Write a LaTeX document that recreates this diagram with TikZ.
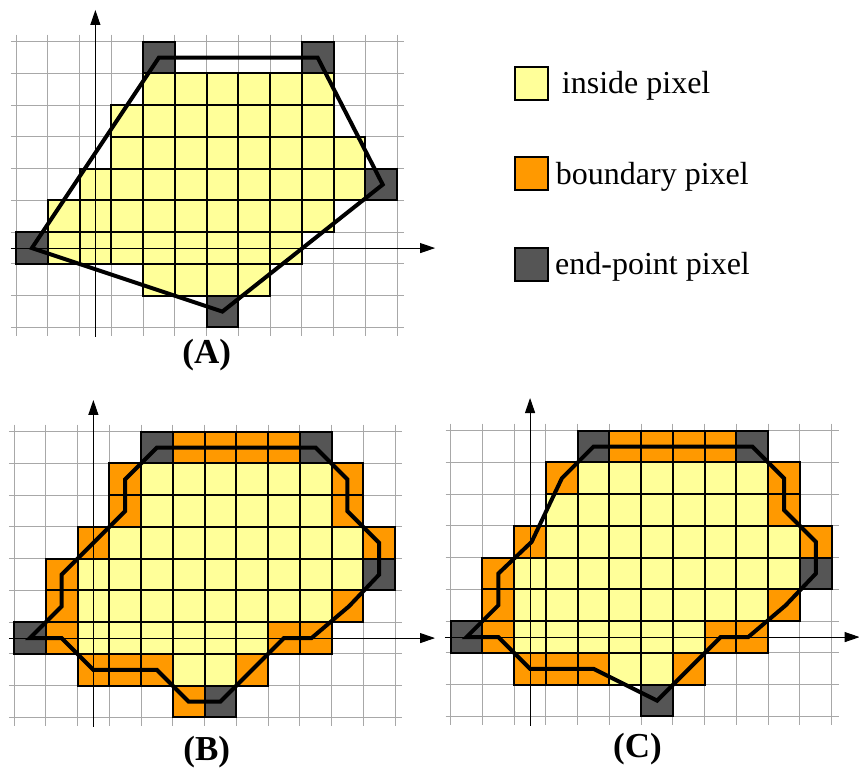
\documentclass[tikz,border=0pt]{standalone}
\usepackage{fontspec}
\setmainfont{Liberation Serif}
\usetikzlibrary{arrows.meta}
\definecolor{inpix}{HTML}{FFFF99}
\definecolor{bdpix}{HTML}{FF9900}
\definecolor{endpix}{HTML}{555555}
\definecolor{gridgray}{HTML}{A8A8A8}
\tikzset{
  gridline/.style={draw=gridgray, line width=1pt},
  cellbox/.style={draw=black, line width=2pt},
  inbox/.style={cellbox, fill=inpix},
  bdbox/.style={cellbox, fill=bdpix},
  endbox/.style={cellbox, fill=endpix},
  axisline/.style={draw=black, line width=1pt, -{Triangle[length=15pt,width=10pt]}},
  outline/.style={draw=black, line width=4pt, line join=miter},
  panellabel/.style={font=\fontsize{35}{40}\selectfont\bfseries, inner sep=0pt, anchor=base},
  legendtext/.style={font=\fontsize{32}{38}\selectfont, inner sep=0pt, anchor=base west},
  panel/.style={x=31.75pt, y=-31.75pt}
}
\newcommand\pixgrid{%
  \foreach \i in {0,...,12} \draw[gridline] (\i,-0.22) -- (\i,9.28);
  \foreach \j in {0,...,9} \draw[gridline] (-0.16,\j) -- (12.22,\j);}
\newcommand\pixrow[3]{\foreach \c in {#3} \path[#1] (\c,#2) rectangle ++(1,1);}
\begin{document}
\begin{tikzpicture}[x=1pt, y=-1pt]
\useasboundingbox (0,0) rectangle (859,769);

% ---------- Panel A ----------
\begin{scope}[shift={(16pt,-41.7pt)}, panel]
  \pixgrid
  \pixrow{inbox}{1}{4,...,9}
  \pixrow{inbox}{2}{3,...,9}
  \pixrow{inbox}{3}{3,...,10}
  \pixrow{inbox}{4}{2,...,10}
  \pixrow{inbox}{5}{1,...,9}
  \pixrow{inbox}{6}{1,...,8}
  \pixrow{inbox}{7}{4,...,7}
  \pixrow{endbox}{0}{4,9}
  \pixrow{endbox}{4}{11}
  \pixrow{endbox}{6}{0}
  \pixrow{endbox}{8}{6}
  \coordinate (ay0) at (2.5,9.3);  \coordinate (ay1) at (2.5,-1.0);
  \coordinate (ax0) at (-0.16,6.5); \coordinate (ax1) at (13.2,6.5);
  \draw[axisline] (ay0) -- (ay1);
  \draw[axisline] (ax0) -- (ax1);
  \draw[outline] (4.5,0.5) -- (9.5,0.5) -- (11.55,4.5) -- (6.5,8.5) -- (0.5,6.5) -- cycle;
\end{scope}
\node[panellabel] (labA) at (206.7,363.5) {(A)};

% ---------- Panel B ----------
\begin{scope}[shift={(14pt,-431.7pt)}, panel]
  \pixgrid
  \pixrow{inbox}{1}{4,...,9}
  \pixrow{inbox}{2}{4,...,9}
  \pixrow{inbox}{3}{3,...,10}
  \pixrow{inbox}{4}{2,...,10}
  \pixrow{inbox}{5}{2,...,9}
  \pixrow{inbox}{6}{2,...,7}
  \pixrow{inbox}{7}{5,6}
  \pixrow{bdbox}{0}{5,...,8}
  \pixrow{bdbox}{1}{3,10}
  \pixrow{bdbox}{2}{3,10}
  \pixrow{bdbox}{3}{2,11}
  \pixrow{bdbox}{4}{1}
  \pixrow{bdbox}{5}{1,10}
  \pixrow{bdbox}{6}{1,8,9}
  \pixrow{bdbox}{7}{2,3,4,7}
  \pixrow{bdbox}{8}{5}
  \pixrow{endbox}{0}{4,9}
  \pixrow{endbox}{4}{11}
  \pixrow{endbox}{6}{0}
  \pixrow{endbox}{8}{6}
  \coordinate (by0) at (2.5,9.29);  \coordinate (by1) at (2.5,-1.0);
  \coordinate (bx0) at (-0.16,6.5); \coordinate (bx1) at (13.26,6.5);
  \draw[axisline] (by0) -- (by1);
  \draw[axisline] (bx0) -- (bx1);
  \draw[outline] (4.5,0.5) -- (9.5,0.5) -- (10.5,1.5) -- (10.5,2.5) -- (11.5,3.5)
    -- (11.5,4.5) -- (10.55,5.5) -- (9.37,6.5) -- (8.5,6.5) -- (6.5,8.5) -- (5.5,8.5)
    -- (4.5,7.5) -- (2.5,7.5) -- (1.5,6.5) -- (0.5,6.5) -- (1.5,5.5) -- (1.5,4.5)
    -- (3.5,2.5) -- (3.5,1.5) -- cycle;
\end{scope}
\node[panellabel] (labB) at (206.7,760) {(B)};

% ---------- Panel C ----------
\begin{scope}[shift={(450.7pt,-430.7pt)}, panel]
  \pixgrid
  \pixrow{inbox}{1}{4,...,9}
  \pixrow{inbox}{2}{3,...,9}
  \pixrow{inbox}{3}{3,...,10}
  \pixrow{inbox}{4}{2,...,10}
  \pixrow{inbox}{5}{2,...,9}
  \pixrow{inbox}{6}{2,...,7}
  \pixrow{inbox}{7}{5,6}
  \pixrow{bdbox}{0}{5,...,8}
  \pixrow{bdbox}{1}{3,10}
  \pixrow{bdbox}{2}{10}
  \pixrow{bdbox}{3}{2,11}
  \pixrow{bdbox}{4}{1}
  \pixrow{bdbox}{5}{1,10}
  \pixrow{bdbox}{6}{1,8,9}
  \pixrow{bdbox}{7}{2,3,4,7}
  \pixrow{endbox}{0}{4,9}
  \pixrow{endbox}{4}{11}
  \pixrow{endbox}{6}{0}
  \pixrow{endbox}{8}{6}
  \coordinate (cy0) at (2.5,9.29);  \coordinate (cy1) at (2.5,-1.03);
  \coordinate (cx0) at (-0.18,6.5); \coordinate (cx1) at (12.88,6.5);
  \draw[axisline] (cy0) -- (cy1);
  \draw[axisline] (cx0) -- (cx1);
  \draw[outline] (4.5,0.5) -- (9.5,0.5) -- (10.5,1.5) -- (10.5,2.5) -- (11.5,3.5)
    -- (11.5,4.5) -- (10.55,5.5) -- (9.37,6.5) -- (8.5,6.5) -- (6.5,8.5)
    -- (4.5,7.5) -- (2.5,7.5) -- (1.5,6.5) -- (0.5,6.5) -- (1.5,5.5) -- (1.5,4.5)
    -- (2.55,3.5) -- (3.5,1.5) -- cycle;
\end{scope}
\node[panellabel] (labC) at (637.5,757) {(C)};

% ---------- Legend ----------
\path[inbox] (515,67.3) rectangle (548.3,100);
\path[bdbox] (515,156.7) rectangle (548.3,190);
\path[endbox] (515,248.3) rectangle (548.3,280.7);
\node[legendtext] (leg1) at (561.7,93.3) {inside pixel};
\node[legendtext] (leg2) at (555.7,184) {boundary pixel};
\node[legendtext] (leg3) at (555,274.5) {end-point pixel};
\end{tikzpicture}
\end{document}
